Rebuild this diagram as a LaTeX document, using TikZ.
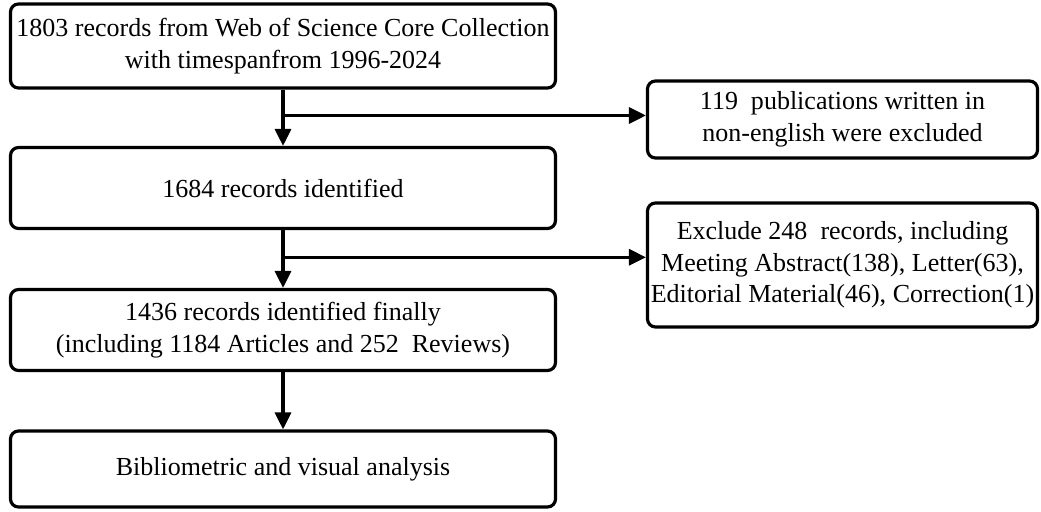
\documentclass[tikz,border=0pt]{standalone}
\usepackage{fontspec}
\setmainfont{Liberation Serif}
\usetikzlibrary{shapes.geometric, arrows.meta}
\tikzstyle{record} = [rectangle, rounded corners=0.16cm, minimum width=10.9cm, minimum height=1.62cm, text centered, align=center, draw=black, line width=1.8pt, inner sep=1pt]
\tikzstyle{exclude} = [rectangle, rounded corners=0.16cm, minimum width=7.8cm, minimum height=1.54cm, text centered, align=center, draw=black, line width=1.8pt, inner sep=1pt]
\tikzstyle{arrow} = [line width=1.8pt, -{Triangle[length=0.34cm, width=0.32cm]}]

\begin{document}
\begin{tikzpicture}[node distance=2.84cm, font=\fontsize{14.8}{18}\selectfont]
\useasboundingbox (0,0) rectangle (20.82,-10.22);

\node (rec1) [record, minimum height=1.68cm] at (5.66,-0.92) {1803 records from Web of Science Core Collection\\with timespanfrom 1996-2024};
\node (rec2) [record, below of=rec1] {1684 records identified};
\node (rec3) [record, below of=rec2] {1436 records identified finally\\(including 1184 Articles and 252~ Reviews)};
\node (final) [record, below of=rec3, yshift=0.06cm, minimum height=1.52cm] {Bibliometric and visual analysis};
\node (excl1) [exclude] at (16.85,-2.39) {119~ publications written in\\non-english were excluded};
\node (excl2) [exclude, minimum height=2.48cm] at (16.85,-5.3) {Exclude 248~ records, including\\Meeting Abstract(138), Letter(63),\\Editorial Material(46), Correction(1)};

\path (rec1.south) -- (rec2.north) coordinate[pos=0.46] (split1);
\path (rec2.south) -- (rec3.north) coordinate[pos=0.47] (split2);

\draw [arrow] (rec1) -- (rec2);
\draw [arrow] (split1) -- (split1 -| excl1.west);
\draw [arrow] (rec2) -- (rec3);
\draw [arrow] (split2) -- (split2 -| excl2.west);
\draw [arrow] (rec3) -- (final);

\end{tikzpicture}
\end{document}
